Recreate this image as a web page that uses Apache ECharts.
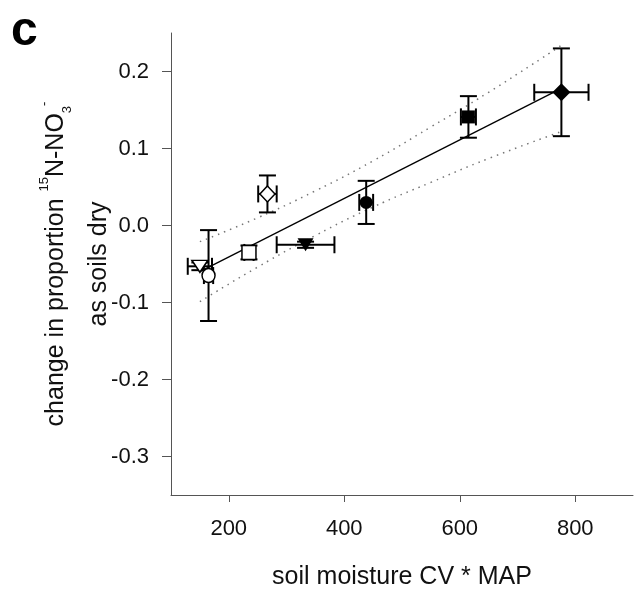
<!DOCTYPE html>
<html>
<head>
<meta charset="utf-8">
<script src="https://cdn.jsdelivr.net/npm/echarts@6/dist/echarts.min.js"></script>
<style>
  html, body { margin: 0; padding: 0; background: #fff; }
  #chart { width: 634px; height: 592px; }
</style>
</head>
<body>
<div id="chart"></div>
<script>
// data
const xValues = [776, 615, 438, 267, 333, 235, 165, 150];
const yValues = [0.173, 0.141, 0.030, 0.041, -0.025, -0.035, -0.065, -0.053];
const xErrors = [47, 13, 12, 16, 50, 8, 8, 21];
const yErrors = [0.057, 0.027, 0.028, 0.024, 0.004, 0.009, 0.059, 0.005];

// regression line + confidence band
const fitX = [150, 776];
const fitY = [-0.060, 0.178];
const bandX = [150, 250, 350, 450, 550, 650, 776];
const bandUpper = [-0.021, 0.010, 0.045, 0.084, 0.128, 0.173, 0.234];
const bandLower = [-0.099, -0.054, -0.013, 0.024, 0.056, 0.087, 0.122];

const xTicks = [200, 400, 600, 800];
const yTicks = [-0.3, -0.2, -0.1, 0.0, 0.1, 0.2];

// marker look for each point (same order as the data)
const markerStyles = [
  { symbol: 'diamond', size: [18, 18], filled: true },
  { symbol: 'rect', size: [13, 13], filled: true },
  { symbol: 'circle', size: [13, 13], filled: true },
  { symbol: 'diamond', size: [15, 16], filled: false },
  { symbol: 'triangle', size: [16, 13], filled: true, rotate: 180 },
  { symbol: 'rect', size: [14, 14], filled: false },
  { symbol: 'circle', size: [13, 14], filled: false },
  { symbol: 'triangle', size: [16, 12], filled: false, rotate: 180 }
];

const font = '"Liberation Sans", Arial, sans-serif';
const axisColor = '#555';

const pointData = xValues.map((x, i) => {
  const m = markerStyles[i];
  return {
    value: [x, yValues[i]],
    symbol: m.symbol,
    symbolSize: m.size,
    symbolRotate: m.rotate || 0,
    itemStyle: {
      color: m.filled ? '#000' : '#fff',
      borderColor: '#000',
      borderWidth: m.filled ? 0 : 1.5,
      opacity: 1
    }
  };
});

const errorData = xValues.map((x, i) => [x, yValues[i], xErrors[i], yErrors[i]]);

// error bars with caps
const renderErrorBar = function (params, api) {
  const x = api.value(0);
  const y = api.value(1);
  const xe = api.value(2);
  const ye = api.value(3);
  const top = api.coord([x, y + ye]);
  const bottom = api.coord([x, y - ye]);
  const left = api.coord([x - xe, y]);
  const right = api.coord([x + xe, y]);
  const cap = 8.5;
  const style = { stroke: '#000', lineWidth: 2 };
  const line = (x1, y1, x2, y2) => ({
    type: 'line',
    shape: { x1: x1, y1: y1, x2: x2, y2: y2 },
    style: style
  });
  return {
    type: 'group',
    children: [
      line(top[0], top[1], bottom[0], bottom[1]),
      line(top[0] - cap, top[1], top[0] + cap, top[1]),
      line(bottom[0] - cap, bottom[1], bottom[0] + cap, bottom[1]),
      line(left[0], left[1], right[0], right[1]),
      line(left[0], left[1] - cap, left[0], left[1] + cap),
      line(right[0], right[1] - cap, right[0], right[1] + cap)
    ]
  };
};

const myChart = echarts.init(document.getElementById('chart'), null, { renderer: 'canvas' });

myChart.setOption({
  animation: false,
  backgroundColor: '#fff',
  textStyle: { fontFamily: font },
  grid: { left: 171, right: 1, top: 33, bottom: 97, outerBoundsMode: 'none' },
  graphic: [
    {
      type: 'text',
      left: 11,
      top: 8,
      style: { text: 'c', font: 'bold 48px ' + font, fill: '#000' }
    }
  ],
  xAxis: {
    type: 'value',
    min: 100,
    max: 900,
    name: 'soil moisture CV * MAP',
    nameLocation: 'middle',
    nameGap: 70,
    nameMoveOverlap: false,
    nameTextStyle: { fontSize: 25, color: '#111', fontFamily: font },
    axisLine: { show: true, onZero: false, lineStyle: { color: axisColor, width: 1 } },
    axisTick: { show: true, length: 7, customValues: xTicks, lineStyle: { color: axisColor } },
    axisLabel: {
      customValues: xTicks,
      margin: 23,
      fontSize: 22,
      color: '#111',
      fontFamily: font
    },
    splitLine: { show: false }
  },
  yAxis: {
    type: 'value',
    min: -0.35,
    max: 0.25,
    name: '{a|change in proportion }{sup|15}{a|N-NO}{sub|3}{sup|-}\n{b|as soils dry}',
    nameLocation: 'middle',
    nameRotate: 90,
    nameGap: 47,
    nameMoveOverlap: false,
    nameTextStyle: {
      fontSize: 25,
      color: '#111',
      fontFamily: font,
      rich: {
        a: { fontSize: 25, lineHeight: 36, color: '#111', fontFamily: font },
        b: { fontSize: 25, lineHeight: 50, color: '#111', fontFamily: font },
        sup: { fontSize: 13, lineHeight: 13, verticalAlign: 'top', color: '#111', fontFamily: font },
        sub: { fontSize: 13, lineHeight: 13, verticalAlign: 'bottom', color: '#111', fontFamily: font }
      }
    },
    axisLine: { show: true, onZero: false, lineStyle: { color: axisColor, width: 1 } },
    axisTick: { show: true, length: 9, customValues: yTicks, lineStyle: { color: axisColor } },
    axisLabel: {
      customValues: yTicks,
      margin: 22,
      fontSize: 22,
      color: '#111',
      fontFamily: font,
      formatter: (v) => v.toFixed(1)
    },
    splitLine: { show: false }
  },
  series: [
    {
      type: 'line',
      data: bandX.map((x, i) => [x, bandUpper[i]]),
      smooth: true,
      symbol: 'none',
      silent: true,
      lineStyle: { color: '#777', width: 1.5, type: [1.5, 5] },
      z: 1
    },
    {
      type: 'line',
      data: bandX.map((x, i) => [x, bandLower[i]]),
      smooth: true,
      symbol: 'none',
      silent: true,
      lineStyle: { color: '#777', width: 1.5, type: [1.5, 5] },
      z: 1
    },
    {
      type: 'line',
      data: fitX.map((x, i) => [x, fitY[i]]),
      symbol: 'none',
      silent: true,
      lineStyle: { color: '#000', width: 1.3 },
      z: 2
    },
    {
      type: 'custom',
      data: errorData,
      renderItem: renderErrorBar,
      silent: true,
      z: 3
    },
    {
      type: 'scatter',
      data: pointData,
      silent: true,
      z: 4
    }
  ]
});
</script>
</body>
</html>
